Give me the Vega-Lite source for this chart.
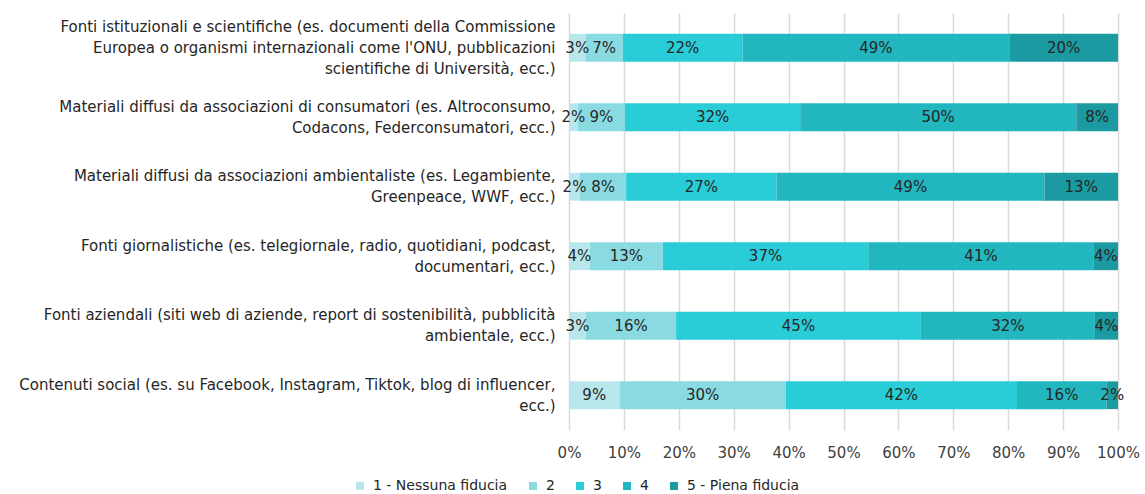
{
  "$schema": "https://vega.github.io/schema/vega-lite/v6.json",
  "width": 549,
  "height": 417,
  "autosize": "none",
  "padding": {"left": 569, "top": 13, "right": 27, "bottom": 64},
  "background": "white",
  "config": {
    "font": "DejaVu Sans",
    "view": {"stroke": null},
    "axis": {"labelFont": "DejaVu Sans", "labelColor": "#404040", "labelFontSize": 15}
  },
  "data": {
    "values": [
      {"source": "Fonti istituzionali e scientifiche (es. documenti della Commissione\nEuropea o organismi internazionali come l'ONU, pubblicazioni\nscientifiche di Università, ecc.)", "level": "1 - Nessuna fiducia", "value": 0.030},
      {"source": "Fonti istituzionali e scientifiche (es. documenti della Commissione\nEuropea o organismi internazionali come l'ONU, pubblicazioni\nscientifiche di Università, ecc.)", "level": "2", "value": 0.068},
      {"source": "Fonti istituzionali e scientifiche (es. documenti della Commissione\nEuropea o organismi internazionali come l'ONU, pubblicazioni\nscientifiche di Università, ecc.)", "level": "3", "value": 0.218},
      {"source": "Fonti istituzionali e scientifiche (es. documenti della Commissione\nEuropea o organismi internazionali come l'ONU, pubblicazioni\nscientifiche di Università, ecc.)", "level": "4", "value": 0.486},
      {"source": "Fonti istituzionali e scientifiche (es. documenti della Commissione\nEuropea o organismi internazionali come l'ONU, pubblicazioni\nscientifiche di Università, ecc.)", "level": "5 - Piena fiducia", "value": 0.198},
      {"source": "Materiali diffusi da associazioni di consumatori (es. Altroconsumo,\nCodacons, Federconsumatori, ecc.)", "level": "1 - Nessuna fiducia", "value": 0.016},
      {"source": "Materiali diffusi da associazioni di consumatori (es. Altroconsumo,\nCodacons, Federconsumatori, ecc.)", "level": "2", "value": 0.086},
      {"source": "Materiali diffusi da associazioni di consumatori (es. Altroconsumo,\nCodacons, Federconsumatori, ecc.)", "level": "3", "value": 0.319},
      {"source": "Materiali diffusi da associazioni di consumatori (es. Altroconsumo,\nCodacons, Federconsumatori, ecc.)", "level": "4", "value": 0.503},
      {"source": "Materiali diffusi da associazioni di consumatori (es. Altroconsumo,\nCodacons, Federconsumatori, ecc.)", "level": "5 - Piena fiducia", "value": 0.076},
      {"source": "Materiali diffusi da associazioni ambientaliste (es. Legambiente,\nGreenpeace, WWF, ecc.)", "level": "1 - Nessuna fiducia", "value": 0.020},
      {"source": "Materiali diffusi da associazioni ambientaliste (es. Legambiente,\nGreenpeace, WWF, ecc.)", "level": "2", "value": 0.084},
      {"source": "Materiali diffusi da associazioni ambientaliste (es. Legambiente,\nGreenpeace, WWF, ecc.)", "level": "3", "value": 0.274},
      {"source": "Materiali diffusi da associazioni ambientaliste (es. Legambiente,\nGreenpeace, WWF, ecc.)", "level": "4", "value": 0.488},
      {"source": "Materiali diffusi da associazioni ambientaliste (es. Legambiente,\nGreenpeace, WWF, ecc.)", "level": "5 - Piena fiducia", "value": 0.134},
      {"source": "Fonti giornalistiche (es. telegiornale, radio, quotidiani, podcast,\ndocumentari, ecc.)", "level": "1 - Nessuna fiducia", "value": 0.038},
      {"source": "Fonti giornalistiche (es. telegiornale, radio, quotidiani, podcast,\ndocumentari, ecc.)", "level": "2", "value": 0.133},
      {"source": "Fonti giornalistiche (es. telegiornale, radio, quotidiani, podcast,\ndocumentari, ecc.)", "level": "3", "value": 0.374},
      {"source": "Fonti giornalistiche (es. telegiornale, radio, quotidiani, podcast,\ndocumentari, ecc.)", "level": "4", "value": 0.411},
      {"source": "Fonti giornalistiche (es. telegiornale, radio, quotidiani, podcast,\ndocumentari, ecc.)", "level": "5 - Piena fiducia", "value": 0.044},
      {"source": "Fonti aziendali (siti web di aziende, report di sostenibilità, pubblicità\nambientale, ecc.)", "level": "1 - Nessuna fiducia", "value": 0.031},
      {"source": "Fonti aziendali (siti web di aziende, report di sostenibilità, pubblicità\nambientale, ecc.)", "level": "2", "value": 0.164},
      {"source": "Fonti aziendali (siti web di aziende, report di sostenibilità, pubblicità\nambientale, ecc.)", "level": "3", "value": 0.446},
      {"source": "Fonti aziendali (siti web di aziende, report di sostenibilità, pubblicità\nambientale, ecc.)", "level": "4", "value": 0.317},
      {"source": "Fonti aziendali (siti web di aziende, report di sostenibilità, pubblicità\nambientale, ecc.)", "level": "5 - Piena fiducia", "value": 0.042},
      {"source": "Contenuti social (es. su Facebook, Instagram, Tiktok, blog di influencer,\necc.)", "level": "1 - Nessuna fiducia", "value": 0.092},
      {"source": "Contenuti social (es. su Facebook, Instagram, Tiktok, blog di influencer,\necc.)", "level": "2", "value": 0.303},
      {"source": "Contenuti social (es. su Facebook, Instagram, Tiktok, blog di influencer,\necc.)", "level": "3", "value": 0.421},
      {"source": "Contenuti social (es. su Facebook, Instagram, Tiktok, blog di influencer,\necc.)", "level": "4", "value": 0.163},
      {"source": "Contenuti social (es. su Facebook, Instagram, Tiktok, blog di influencer,\necc.)", "level": "5 - Piena fiducia", "value": 0.021}
    ]
  },
  "encoding": {
    "y": {
      "field": "source",
      "type": "nominal",
      "sort": null,
      "scale": {"paddingInner": 0.6, "paddingOuter": 0.3},
      "axis": {
        "title": null,
        "ticks": false,
        "domain": false,
        "labelPadding": 14,
        "labelAlign": "right",
        "labelFontSize": 15,
        "labelColor": "#262626",
        "labelLineHeight": 21,
        "labelLimit": 0,
        "labelExpr": "split(datum.label, '\\n')",
        "labelOffset": {"expr": "-(length(split(datum.label, '\\n')) - 1) * 10.5"}
      }
    }
  },
  "layer": [
    {
      "mark": {"type": "bar"},
      "encoding": {
        "x": {
          "field": "value",
          "type": "quantitative",
          "stack": "zero",
          "scale": {"domain": [0, 1], "nice": false},
          "axis": {
            "title": null,
            "format": ".0%",
            "values": [0, 0.1, 0.2, 0.3, 0.4, 0.5, 0.6, 0.7, 0.8, 0.9, 1],
            "grid": true,
            "gridColor": "#d9d9d9",
            "gridWidth": 1.5,
            "domain": false,
            "ticks": false,
            "labelPadding": 15,
            "labelOverlap": false,
            "labelFlush": false
          }
        },
        "color": {
          "field": "level",
          "type": "nominal",
          "scale": {
            "domain": ["1 - Nessuna fiducia", "2", "3", "4", "5 - Piena fiducia"],
            "range": ["#b8e6ea", "#8adbe1", "#29cdd8", "#22b6bf", "#1b9aa1"]
          },
          "legend": {
            "title": null,
            "orient": "none",
            "direction": "horizontal",
            "legendX": -216,
            "legendY": 466,
            "symbolType": "square",
            "symbolSize": 64,
            "symbolStrokeWidth": 0,
            "labelFontSize": 14,
            "labelFont": "DejaVu Sans",
            "labelColor": "#262626",
            "columnPadding": 18,
            "labelOffset": 6
          }
        },
        "order": {"field": "level", "type": "ordinal"}
      }
    },
    {
      "mark": {"type": "text", "fontSize": 15, "color": "#262626", "font": "DejaVu Sans"},
      "encoding": {
        "x": {"field": "value", "type": "quantitative", "stack": "zero", "bandPosition": 0.5},
        "detail": {"field": "level"},
        "order": {"field": "level", "type": "ordinal"},
        "text": {"field": "value", "type": "quantitative", "format": ".0%"}
      }
    }
  ]
}
